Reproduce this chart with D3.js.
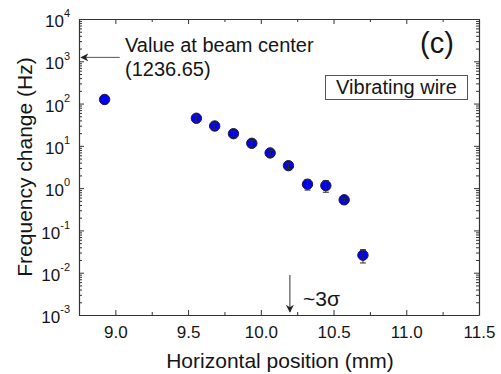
<!DOCTYPE html>
<html>
<head>
<meta charset="utf-8">
<script src="https://cdn.jsdelivr.net/npm/d3@7"></script>
<style>
  body { margin: 0; background: #fff; }
  text { font-family: "Liberation Sans", Arial, sans-serif; fill: #151515; }
</style>
</head>
<body>
<svg id="chart" width="501" height="374"></svg>
<script>
// values
const positions  = [8.926, 9.557, 9.683, 9.812, 9.938, 10.064, 10.19, 10.321, 10.447, 10.573, 10.702];
const freqChange = [125, 45, 29.5, 19.4, 11.5, 6.8, 3.4, 1.24, 1.15, 0.53, 0.026];
const freqErr    = [0, 8, 5, 3, 2, 1.1, 0.5, 0.34, 0.35, 0.04, 0.009];
const xTickValues = [9.0, 9.5, 10.0, 10.5, 11.0, 11.5];
const yDecades = [-3, -2, -1, 0, 1, 2, 3, 4];
const centerValue = 1236.65;
const sigmaPosition = 10.2;

const margin = { top: 19, right: 22, bottom: 59, left: 79 };
const svg = d3.select('#chart');
const width = 501 - margin.left - margin.right;
const height = 374 - margin.top - margin.bottom;
const axisColor = '#333';

const g = svg.append('g')
  .attr('transform', 'translate(' + margin.left + ',' + margin.top + ')');

const x = d3.scaleLinear().domain([8.75, 11.5]).range([0, width]);
const y = d3.scaleLog().domain([1e-3, 1e4]).range([height, 0]);

// minor tick positions
let xMinor = d3.range(8.75, 11.51, 0.25).filter(v => Math.abs((v * 2) % 1) > 0.01);
let yMinor = [];
yDecades.slice(0, -1).forEach(e => {
  for (let k = 2; k <= 9; k++) yMinor.push(k * Math.pow(10, e));
});

function styleAxis(sel) {
  sel.selectAll('path.domain').attr('stroke', axisColor).attr('stroke-width', 1.2);
  sel.selectAll('.tick line').attr('stroke', axisColor).attr('stroke-width', 1);
}

// bottom axis
const bottom = g.append('g')
  .attr('transform', 'translate(0,' + height + ')')
  .call(d3.axisBottom(x).tickValues(xTickValues).tickSizeInner(-5).tickSizeOuter(0)
    .tickPadding(10).tickFormat(d3.format('.1f')));
bottom.selectAll('.tick text').attr('font-size', 17).attr('dy', '0.75em');
bottom.call(styleAxis);
g.append('g')
  .attr('transform', 'translate(0,' + height + ')')
  .call(d3.axisBottom(x).tickValues(xMinor).tickSize(-3).tickFormat(''))
  .call(styleAxis)
  .select('path.domain').remove();

// top axis
g.append('g')
  .call(d3.axisTop(x).tickValues(xTickValues).tickSizeInner(-5).tickSizeOuter(0).tickFormat(''))
  .call(styleAxis);
g.append('g')
  .call(d3.axisTop(x).tickValues(xMinor).tickSize(-3).tickFormat(''))
  .call(styleAxis)
  .select('path.domain').remove();

// left axis
const left = g.append('g')
  .call(d3.axisLeft(y).tickValues(yDecades.map(e => Math.pow(10, e)))
    .tickSizeInner(-5).tickSizeOuter(0).tickPadding(9).tickFormat(''));
left.call(styleAxis);
left.selectAll('.tick text')
  .attr('font-size', 17)
  .attr('dy', '0.45em')
  .each(function (d) {
    const t = d3.select(this);
    t.append('tspan').text('10');
    t.append('tspan').attr('font-size', 11).attr('dy', '-0.9em').text(Math.round(Math.log10(d)));
  });
g.append('g')
  .call(d3.axisLeft(y).tickValues(yMinor).tickSize(-3).tickFormat(''))
  .call(styleAxis)
  .select('path.domain').remove();

// right axis
g.append('g')
  .attr('transform', 'translate(' + width + ',0)')
  .call(d3.axisRight(y).tickValues(yDecades.map(e => Math.pow(10, e)))
    .tickSizeInner(-5).tickSizeOuter(0).tickFormat(''))
  .call(styleAxis);
g.append('g')
  .attr('transform', 'translate(' + width + ',0)')
  .call(d3.axisRight(y).tickValues(yMinor).tickSize(-3).tickFormat(''))
  .call(styleAxis)
  .select('path.domain').remove();

// axis titles
svg.append('text')
  .attr('x', 280)
  .attr('y', 368)
  .attr('text-anchor', 'middle')
  .attr('font-size', 21)
  .text('Horizontal position (mm)');
svg.append('text')
  .attr('transform', 'translate(32,' + (margin.top + height / 2) + ') rotate(-90)')
  .attr('text-anchor', 'middle')
  .attr('font-size', 21)
  .text('Frequency change (Hz)');

// data points
const data = positions.map((p, i) => ({ x: p, y: freqChange[i], e: freqErr[i] }));

g.selectAll('.dot')
  .data(data)
  .enter()
  .append('circle')
  .attr('class', 'dot')
  .attr('cx', d => x(d.x))
  .attr('cy', d => y(d.y))
  .attr('r', 5.2)
  .attr('fill', '#0000f5')
  .attr('stroke', '#1b1b3a')
  .attr('stroke-width', 1);

const bars = g.selectAll('.err')
  .data(data.filter(d => d.e > 0))
  .enter()
  .append('g')
  .attr('class', 'err')
  .attr('stroke', '#2a2a2a')
  .attr('stroke-width', 1);
bars.append('line')
  .attr('x1', d => x(d.x)).attr('x2', d => x(d.x))
  .attr('y1', d => y(d.y + d.e)).attr('y2', d => y(d.y - d.e));
bars.append('line')
  .attr('x1', d => x(d.x) - 3).attr('x2', d => x(d.x) + 3)
  .attr('y1', d => y(d.y + d.e)).attr('y2', d => y(d.y + d.e));
bars.append('line')
  .attr('x1', d => x(d.x) - 3).attr('x2', d => x(d.x) + 3)
  .attr('y1', d => y(d.y - d.e)).attr('y2', d => y(d.y - d.e));

// arrowhead
svg.append('defs').append('marker')
  .attr('id', 'head')
  .attr('viewBox', '0 0 10 10')
  .attr('refX', 9).attr('refY', 5)
  .attr('markerWidth', 8).attr('markerHeight', 8)
  .attr('markerUnits', 'userSpaceOnUse')
  .attr('orient', 'auto')
  .append('path')
  .attr('d', 'M0,0 L10,5 L0,10 L3,5 Z')
  .attr('fill', '#222');

// beam-center annotation
g.append('line')
  .attr('x1', x(9.03)).attr('x2', x(8.765))
  .attr('y1', y(centerValue)).attr('y2', y(centerValue))
  .attr('stroke', '#555').attr('stroke-width', 1)
  .attr('marker-end', 'url(#head)');
svg.append('text').attr('x', 125).attr('y', 52).attr('font-size', 20).text('Value at beam center');
svg.append('text').attr('x', 125).attr('y', 76).attr('font-size', 20).text('(' + centerValue + ')');

// 3 sigma annotation
g.append('line')
  .attr('x1', x(sigmaPosition)).attr('x2', x(sigmaPosition))
  .attr('y1', height - 40).attr('y2', height - 3)
  .attr('stroke', '#333').attr('stroke-width', 1)
  .attr('marker-end', 'url(#head)');
svg.append('text').attr('x', 303).attr('y', 306).attr('font-size', 21).text('~3\u03c3');

// panel label and legend box
svg.append('text').attr('x', 420).attr('y', 53).attr('font-size', 29).text('(c)');
svg.append('rect')
  .attr('x', 325.5).attr('y', 75.5).attr('width', 142).attr('height', 24)
  .attr('fill', '#fff').attr('stroke', '#555').attr('stroke-width', 1);
svg.append('text').attr('x', 396.5).attr('y', 94).attr('text-anchor', 'middle')
  .attr('font-size', 20).text('Vibrating wire');
</script>
</body>
</html>
